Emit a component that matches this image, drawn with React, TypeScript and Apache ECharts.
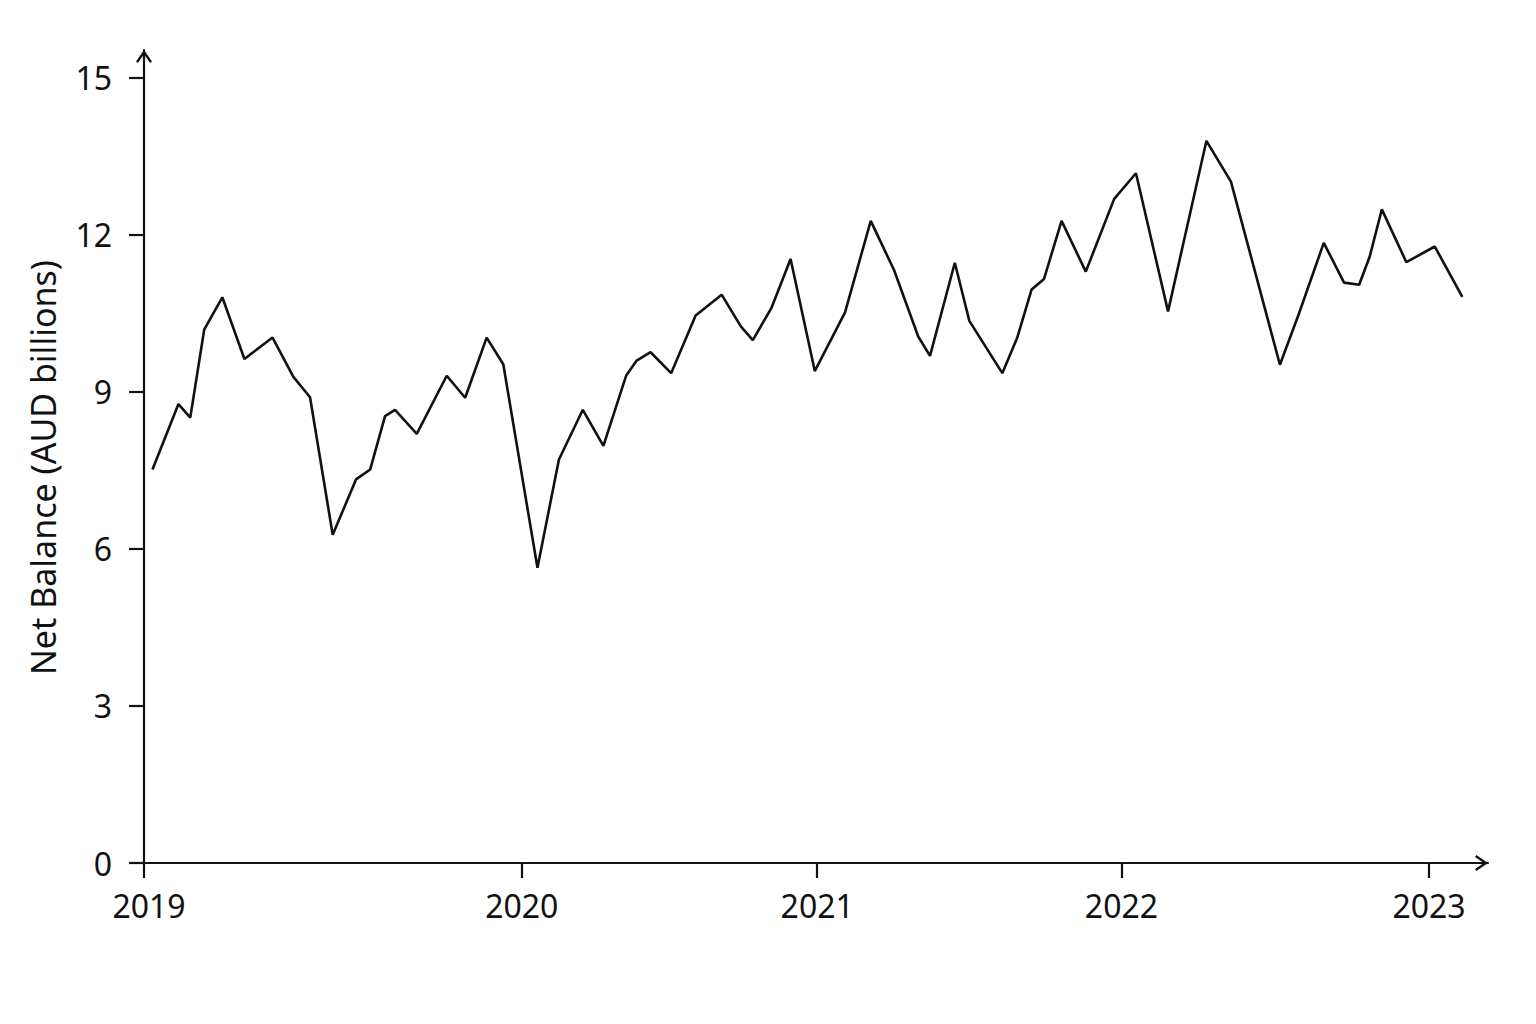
import { FC, useEffect, useRef } from "react";
import * as echarts from "echarts";

// x positions as decimal years
const periods: number[] = [
  2018.779, 2018.865, 2018.904, 2018.95, 2019.01, 2019.083, 2019.176, 2019.245,
  2019.3, 2019.375, 2019.452, 2019.499, 2019.548, 2019.581, 2019.653, 2019.752,
  2019.813, 2019.884, 2019.939, 2020.052, 2020.123, 2020.202, 2020.27, 2020.345,
  2020.38, 2020.426, 2020.494, 2020.575, 2020.661, 2020.725, 2020.764, 2020.826,
  2020.889, 2020.969, 2021.069, 2021.154, 2021.231, 2021.311, 2021.35, 2021.432,
  2021.48, 2021.589, 2021.638, 2021.686, 2021.727, 2021.785, 2021.865, 2021.959,
  2022.031, 2022.137, 2022.264, 2022.345, 2022.507, 2022.57, 2022.652, 2022.719,
  2022.769, 2022.804, 2022.844, 2022.925, 2023.019, 2023.11,
];

// net balance, AUD billions
const netBalance: number[] = [
  7.52, 8.77, 8.51, 10.19, 10.81, 9.63, 10.04, 9.29,
  8.9, 6.27, 7.33, 7.52, 8.54, 8.66, 8.2, 9.31,
  8.89, 10.04, 9.53, 5.64, 7.71, 8.66, 7.97, 9.31,
  9.6, 9.76, 9.36, 10.46, 10.86, 10.25, 9.99, 10.61,
  11.54, 9.4, 10.52, 12.27, 11.33, 10.06, 9.69, 11.47,
  10.36, 9.36, 10.03, 10.96, 11.16, 12.27, 11.3, 12.69,
  13.18, 10.54, 13.8, 13.02, 9.52, 10.5, 11.85, 11.09,
  11.05, 11.59, 12.49, 11.48, 11.78, 10.82,
];

// where the year labels sit on the x axis
const xTickValues: number[] = [2018.751, 2020, 2020.977, 2021.983, 2023];
const xTickLabels: string[] = ["2019", "2020", "2021", "2022", "2023"];
const yTickValues: number[] = [0, 3, 6, 9, 12, 15];

const X_MIN = 2018.751;
const X_MAX = 2023.195;
const Y_MAX = 15.535;

const FONT = "'Noto Sans', 'Open Sans', sans-serif";
const INK = "#111111";
// open arrow head, pointing up
const ARROW = "path://M0,11.6 L8,0 L16,11.6 L14.1,13 L8,4.2 L1.9,13 Z";

const App: FC = () => {
  const chartRef = useRef<HTMLDivElement>(null);

  useEffect(() => {
    if (!chartRef.current) return;
    const chart = echarts.init(chartRef.current, null, { renderer: "svg" });

    const axisLine = {
      show: true,
      symbol: ["none", ARROW],
      symbolSize: [16, 13],
      symbolOffset: [0, -6.5],
      lineStyle: { color: INK, width: 2.2 },
    };
    const tickStyle = { color: INK, width: 2.2 };

    chart.setOption({
      animation: false,
      backgroundColor: "#ffffff",
      grid: { left: 144, right: 48, top: 50, bottom: 161, outerBoundsMode: "none" },
      xAxis: {
        type: "value",
        min: X_MIN,
        max: X_MAX,
        axisLine,
        axisTick: { show: true, customValues: xTickValues, length: 15, lineStyle: tickStyle },
        axisLabel: {
          customValues: xTickValues,
          formatter: (v: number) => {
            const i = xTickValues.findIndex((t) => Math.abs(t - v) < 1e-6);
            if (i < 0) return "";
            return i === 0 ? "{first|" + xTickLabels[i] + "}" : xTickLabels[i];
          },
          rich: { first: { padding: [0, 0, 0, 10], fontSize: 32, fontFamily: FONT, color: INK } },
          margin: 26,
          fontSize: 32,
          fontFamily: FONT,
          color: INK,
        },
        splitLine: { show: false },
      },
      yAxis: {
        type: "value",
        min: 0,
        max: Y_MAX,
        name: "Net Balance (AUD billions)",
        nameLocation: "middle",
        nameGap: 84,
        nameTextStyle: { fontSize: 34, fontFamily: FONT, color: INK, padding: [0, 22, 0, 0] },
        axisLine,
        axisTick: { show: true, customValues: yTickValues, length: 15, lineStyle: tickStyle },
        axisLabel: {
          customValues: yTickValues,
          margin: 32,
          fontSize: 32,
          fontFamily: FONT,
          color: INK,
        },
        splitLine: { show: false },
      },
      series: [
        {
          type: "line",
          data: periods.map((p, i) => [p, netBalance[i]]),
          showSymbol: false,
          lineStyle: { color: INK, width: 2.6 },
          silent: true,
        },
      ],
    });

    return () => {
      chart.dispose();
    };
  }, []);

  return (
    <div
      ref={chartRef}
      style={{ position: "fixed", left: 0, top: 0, width: "100vw", height: "100vh", background: "#fff" }}
    />
  );
};

export default App;
